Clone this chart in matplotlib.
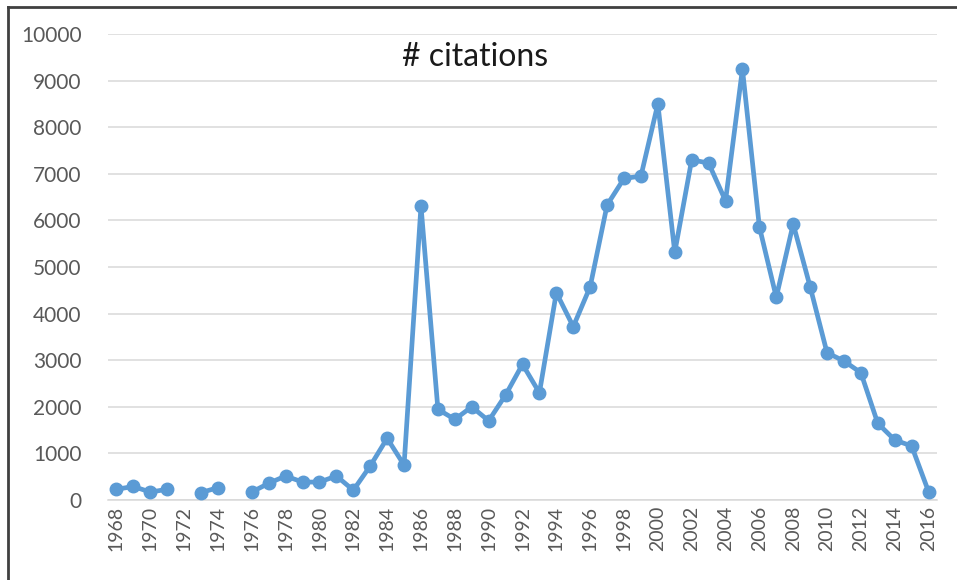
import numpy as np
import matplotlib.pyplot as plt
from matplotlib.lines import Line2D

# years 1968-2016, None where no value was plotted
years = list(range(1968, 2017))
citations = [230, 290, 170, 230, None, 160, 265, None, 170, 360,
             515, 385, 385, 515, 210, 730, 1324, 750, 6309, 1946,
             1730, 2000, 1700, 2253, 2912, 2300, 4450, 3720, 4577, 6330,
             6900, 6950, 8500, 5315, 7300, 7230, 6420, 9250, 5865, 4350,
             5923, 4577, 3160, 2983, 2732, 1645, 1288, 1159, 180]
y_ticks = list(range(0, 10001, 1000))

line_color = '#5B9BD5'
text_color = '#595959'
grid_color = '#D9D9D9'

plt.rcParams['font.family'] = ['Lato', 'DejaVu Sans']

fig = plt.figure(figsize=(9.57, 5.8), dpi=100)
ax = fig.add_axes([108 / 957, 1 - 500 / 580, (937 - 108) / 957, (500 - 34) / 580])

vals = np.array([np.nan if v is None else v for v in citations], dtype=float)
x = np.arange(len(years))
ax.plot(x, vals, color=line_color, linewidth=3.4, marker='o', markersize=9,
        solid_capstyle='round', solid_joinstyle='round', zorder=3)

ax.set_xlim(-0.5, len(years) - 0.5)
ax.set_ylim(0, 10000)
ax.set_yticks(y_ticks)
ax.set_yticklabels([str(t) for t in y_ticks])
ax.set_xticks(x[::2])
ax.set_xticklabels([str(y) for y in years[::2]], rotation=90)

ax.grid(axis='y', color=grid_color, linewidth=1.1)
ax.set_axisbelow(True)
for side in ['top', 'right', 'left']:
    ax.spines[side].set_visible(False)
ax.spines['bottom'].set_color(grid_color)
ax.spines['bottom'].set_linewidth(1.1)
ax.tick_params(axis='both', length=0, colors=text_color)
ax.tick_params(axis='y', pad=19, labelsize=15)
ax.tick_params(axis='x', pad=4, labelsize=14)

fig.text(475 / 957, 1 - 57 / 580, '# citations', ha='center', va='center',
         fontsize=23, color='#1a1a1a')

# outer chart border (only top and left visible in the crop)
fig.add_artist(Line2D([8 / 957, 1], [1 - 7 / 580, 1 - 7 / 580], color='#404040', linewidth=2))
fig.add_artist(Line2D([8 / 957, 8 / 957], [0, 1 - 7 / 580], color='#404040', linewidth=2))

fig.savefig('out.png', dpi=100)
